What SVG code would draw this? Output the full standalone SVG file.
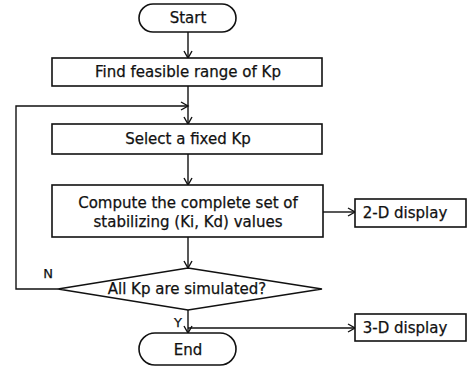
<svg xmlns="http://www.w3.org/2000/svg" width="470" height="371" viewBox="0 0 470 371">
<style>
.b{fill:#fff;stroke:#111;stroke-width:1.6}
.c{fill:none;stroke:#111;stroke-width:1.4}
.t{font-family:"DejaVu Sans","Liberation Sans",sans-serif;font-size:15px;fill:#111;stroke:#111;stroke-width:0.25;text-anchor:middle;dominant-baseline:central}
.l{font-family:"DejaVu Sans","Liberation Sans",sans-serif;font-size:13px;fill:#111;stroke:#111;stroke-width:0.25;text-anchor:middle;dominant-baseline:central}
</style>
<defs>
<marker id="a" markerWidth="10" markerHeight="10" refX="8" refY="5" orient="auto" markerUnits="userSpaceOnUse">
<polyline points="1,1 8,5 1,9" fill="none" stroke="#111" stroke-width="1.4"/>
</marker>
</defs>
<g id="connectors">
<line class="c" x1="188" y1="32" x2="188" y2="58" marker-end="url(#a)"/>
<line class="c" x1="188" y1="86" x2="188" y2="124" marker-end="url(#a)"/>
<polyline class="c" points="58,289 16,289 16,106 188,106" marker-end="url(#a)"/>
<line class="c" x1="188" y1="154" x2="188" y2="185" marker-end="url(#a)"/>
<line class="c" x1="323" y1="212" x2="355" y2="212" marker-end="url(#a)"/>
<line class="c" x1="188" y1="237" x2="188" y2="268" marker-end="url(#a)"/>
<line class="c" x1="188" y1="310" x2="188" y2="333" marker-end="url(#a)"/>
<polyline class="c" points="188,328 355,328" marker-end="url(#a)"/>
</g>
<g id="start"><rect class="b" x="139" y="4" width="97" height="28" rx="14"/><text class="t" x="188" y="18">Start</text></g>
<g id="find"><rect class="b" x="52" y="58" width="270" height="28"/><text class="t" x="188" y="72">Find feasible range of Kp</text></g>
<g id="select"><rect class="b" x="52" y="124" width="270" height="30"/><text class="t" x="188" y="139">Select a fixed Kp</text></g>
<g id="compute"><rect class="b" x="52" y="185" width="271" height="52"/><text class="t" x="188" y="203">Compute the complete set of</text><text class="t" x="188" y="222">stabilizing (Ki, Kd) values</text></g>
<g id="display2d"><rect class="b" x="355" y="199" width="111" height="28"/><text class="t" x="405" y="213">2-D display</text></g>
<g id="decision"><polygon class="b" points="188,268 322,289 188,310 58,289"/><text class="t" x="187" y="289">All Kp are simulated?</text></g>
<g id="labels"><text class="l" x="48" y="273">N</text><text class="l" x="178" y="322">Y</text></g>
<g id="display3d"><rect class="b" x="355" y="314" width="111" height="27"/><text class="t" x="405" y="328">3-D display</text></g>
<g id="end"><rect class="b" x="139" y="333" width="97" height="32" rx="16"/><text class="t" x="188" y="350">End</text></g>
</svg>
